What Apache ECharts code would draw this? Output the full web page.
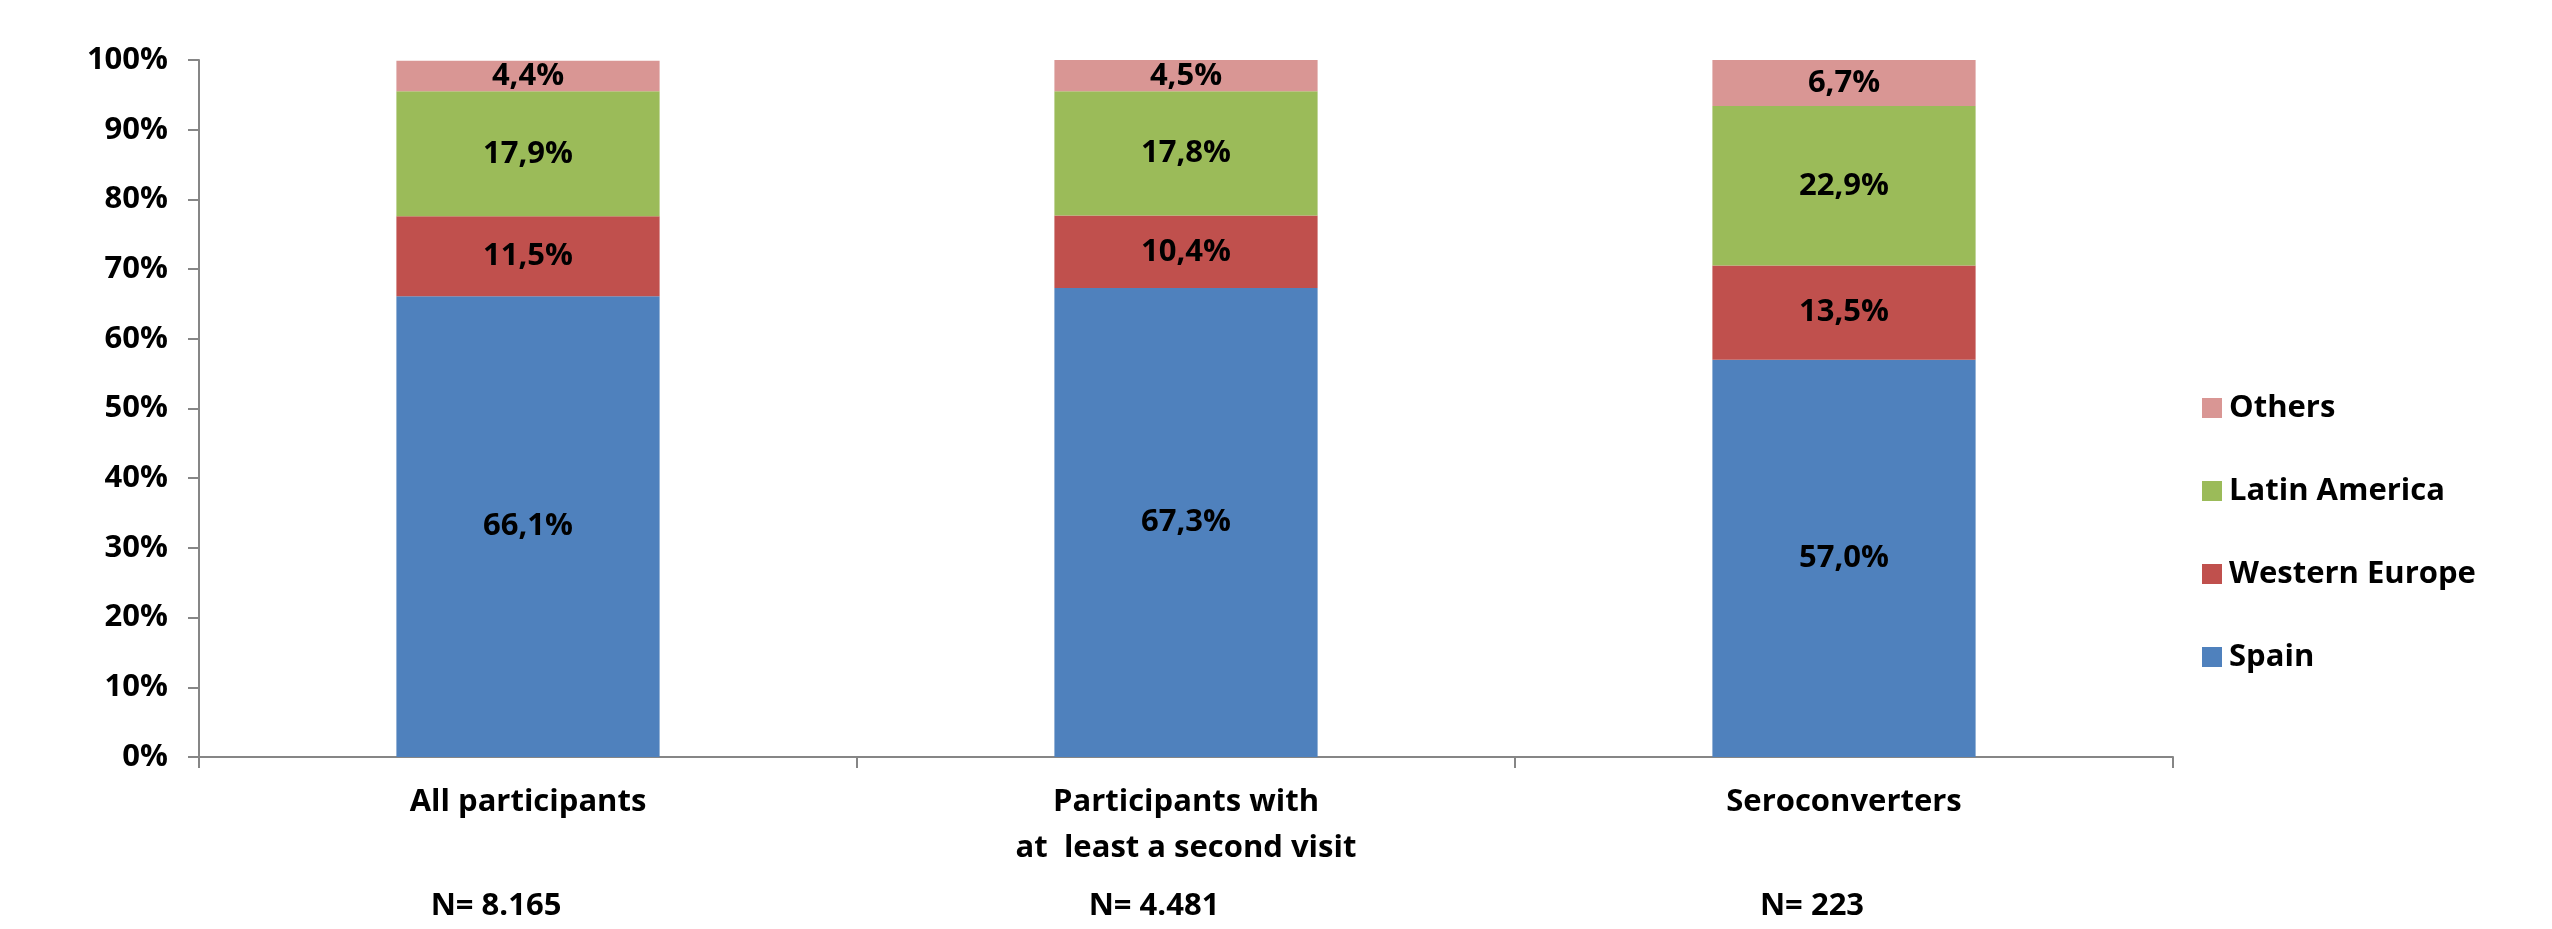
<!DOCTYPE html>
<html>
<head>
<meta charset="utf-8">
<script src="https://cdn.jsdelivr.net/npm/echarts@6/dist/echarts.min.js"></script>
<style>
  html, body { margin: 0; padding: 0; background: #fff; }
  #main { width: 2552px; height: 929px; }
</style>
</head>
<body>
<div id="main"></div>
<script>
// categories and sample sizes
var categories = ["All participants", "Participants with\nat  least a second visit", "Seroconverters"];
var sampleSizes = ["N= 8.165", "N= 4.481", "N= 223"];

// percentages per origin
var spain = [66.1, 67.3, 57.0];
var westernEurope = [11.5, 10.4, 13.5];
var latinAmerica = [17.9, 17.8, 22.9];
var others = [4.4, 4.5, 6.7];

var yTicks = [0, 10, 20, 30, 40, 50, 60, 70, 80, 90, 100];

var fontFamily = "'Open Sans', 'DejaVu Sans', sans-serif";
var axisColor = "#868686";

function pct(v) {
  return v.toFixed(1).replace(".", ",") + "%";
}

function makeSeries(name, data, color) {
  return {
    name: name,
    type: "bar",
    stack: "total",
    barCategoryGap: "60%",
    data: data,
    itemStyle: { color: color },
    label: {
      show: true,
      position: "inside",
      color: "#000",
      fontFamily: fontFamily,
      fontWeight: "bold",
      fontSize: 31,
      formatter: function (p) {
        return pct(p.value);
      },
    },
  };
}

var chart = echarts.init(document.getElementById("main"));

var option = {
  animation: false,
  backgroundColor: "#fff",
  textStyle: { fontFamily: fontFamily },
  grid: { left: 199, right: 379, top: 60, bottom: 172, outerBoundsMode: "none", containLabel: false },
  legend: {
    orient: "vertical",
    left: 2197,
    top: 383,
    itemWidth: 20,
    itemHeight: 20,
    itemGap: 43,
    icon: "rect",
    data: ["Others", "Latin America", "Western Europe", "Spain"],
    textStyle: {
      color: "#000",
      fontFamily: fontFamily,
      fontWeight: "bold",
      fontSize: 31,
      lineHeight: 40,
      padding: [0, 0, 0, 2],
    },
  },
  xAxis: {
    type: "category",
    data: categories,
    axisLine: { lineStyle: { color: axisColor, width: 2 } },
    axisTick: { show: true, length: 11, lineStyle: { color: axisColor, width: 2 } },
    axisLabel: {
      color: "#000",
      fontFamily: fontFamily,
      fontWeight: "bold",
      fontSize: 31,
      lineHeight: 46,
      margin: 22,
      interval: 0,
      formatter: function (value, idx) {
        var lines = value.split("\n");
        if (lines.length < 2) lines.push(" ");
        return lines.join("\n") + "\n{n|" + sampleSizes[idx] + "}";
      },
      rich: {
        n: {
          color: "#000",
          fontFamily: fontFamily,
          fontWeight: "bold",
          fontSize: 31,
          lineHeight: 70,
          padding: [0, 64, 0, 0],
        },
      },
    },
  },
  yAxis: {
    type: "value",
    min: 0,
    max: 100,
    interval: 10,
    splitLine: { show: false },
    axisLine: { show: true, lineStyle: { color: axisColor, width: 2 } },
    axisTick: { show: true, length: 11, lineStyle: { color: axisColor, width: 2 } },
    axisLabel: {
      color: "#000",
      fontFamily: fontFamily,
      fontWeight: "bold",
      fontSize: 31,
      margin: 31,
      formatter: function (v) {
        return yTicks.indexOf(v) >= 0 ? v + "%" : "";
      },
    },
  },
  series: [
    makeSeries("Spain", spain, "#4F81BD"),
    makeSeries("Western Europe", westernEurope, "#C0504D"),
    makeSeries("Latin America", latinAmerica, "#9BBB59"),
    makeSeries("Others", others, "#D99694"),
  ],
};

chart.setOption(option);
</script>
</body>
</html>
